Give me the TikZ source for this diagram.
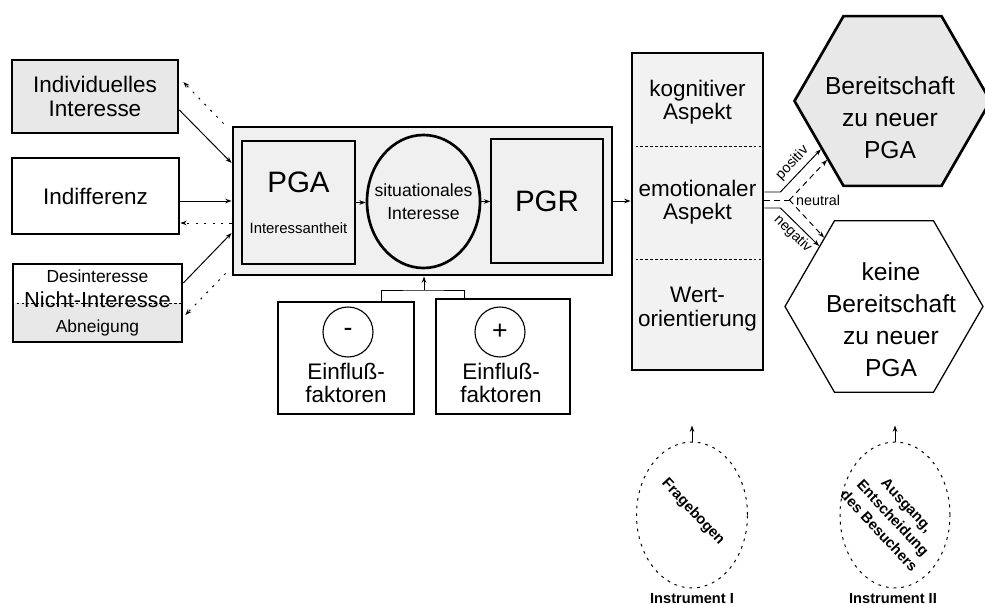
\documentclass[tikz,border=0pt]{standalone}
\usepackage{fontspec}
\setmainfont{Liberation Sans}
\usetikzlibrary{shapes.geometric,arrows.meta,calc,positioning}

\begin{document}
\begin{tikzpicture}[x=0.25mm,y=-0.25mm]
  \tikzstyle{box} = [rectangle, draw, line width=1.9pt, align=center, font=\fontsize{16}{16.5}\selectfont]
  \tikzstyle{greybox} = [box, fill=gray!18]
  \tikzstyle{innerbox} = [rectangle, draw, fill=gray!12, line width=1pt, align=center]
  \tikzstyle{infbox} = [rectangle, draw, line width=0.9pt]
  \tikzstyle{sign} = [circle, draw, line width=0.8pt, minimum size=12.5mm, inner sep=0pt, font=\fontsize{19}{19}\selectfont]
  \tikzstyle{plain} = [align=center, inner sep=0pt, font=\fontsize{16}{16.5}\selectfont]
  \tikzstyle{halfgrey} = [path picture={\fill[gray!18] (path picture bounding box.west) rectangle (path picture bounding box.south east);}]
  \tikzstyle{hexa} = [regular polygon, regular polygon sides=6, draw, inner sep=0pt]
  \tikzstyle{hextext} = [align=center, inner sep=0pt, font=\fontsize{17.5}{22.8}\selectfont]
  \tikzstyle{tool} = [ellipse, draw, dash pattern=on 2pt off 3.5pt, line width=0.7pt]
  \tikzstyle{tooltext} = [align=center, inner sep=0pt, rotate=-47, font=\bfseries\fontsize{10.5}{13.5}\selectfont]
  \tikzstyle{small} = [inner sep=1pt, font=\fontsize{10.2}{12}\selectfont]
  \tikzstyle{arrow} = [-{Stealth[length=4.5pt,width=3.2pt]}, line width=0.7pt]
  \tikzstyle{back} = [arrow, dash pattern=on 1.5pt off 4.5pt]
  \tikzstyle{neutralline} = [line width=0.7pt, dash pattern=on 4pt off 3pt]
  \tikzstyle{divider} = [line width=0.6pt, dash pattern=on 2pt off 1.5pt]

  \useasboundingbox (0,0) rectangle (985,605);

  % left column
  \node[greybox, minimum width=41.5mm, minimum height=18.25mm] at (95,96.5) (indiv) {Individuelles\\Interesse};
  \node[box, minimum width=41.75mm, minimum height=19mm] at (95.5,196) (indiff) {Indifferenz};
  \node[box, halfgrey, minimum width=42.25mm, minimum height=19.5mm, inner sep=0pt, font=\fontsize{12.4}{18}\selectfont] at (97.5,303) (nicht) {Desinteresse\\{\fontsize{15.5}{18}\selectfont Nicht-Interesse}\\Abneigung};
  \draw[divider] (nicht.west) -- (nicht.east);

  % main block
  \node[box, fill=gray!12, line width=2pt, minimum width=94.75mm, minimum height=37mm] at (422.5,201) (main) {};
  \node[innerbox, minimum width=28.25mm, minimum height=30.75mm, font=\fontsize{10.6}{29}\selectfont] at (298.5,202.5) (pga) {{\fontsize{21}{21}\selectfont PGA}\\Interessantheit};
  \node[ellipse, draw, fill=gray!12, line width=1.9pt, minimum width=28.25mm, minimum height=33.25mm] at (423.5,201.5) (sit) {};
  \node[plain, font=\fontsize{12.5}{16.5}\selectfont] at (sit) (sittext) {situationales\\Interesse};
  \node[innerbox, minimum width=28mm, minimum height=31mm, font=\fontsize{21}{21}\selectfont] at (547,201) (pgr) {PGR};

  % influences
  \node[infbox, minimum width=34mm, minimum height=28mm] at (346,358) (minusbox) {};
  \node[sign] at (348,332) (minus) {-};
  \node[plain] at (346,383) (minustext) {Einfluß-\\faktoren};
  \node[infbox, minimum width=33.5mm, minimum height=28.75mm] at (503,356.5) (plusbox) {};
  \node[sign] at (500,332) (plus) {+};
  \node[plain] at (501,383) (plustext) {Einfluß-\\faktoren};

  % aspects
  \node[box, fill=gray!10, line width=2pt, minimum width=32.75mm, minimum height=79.25mm] at (697.5,211.5) (aspect) {};
  \node[plain] at (697.5,102) (cog) {kognitiver\\Aspekt};
  \node[plain] at (697.5,202.5) (emo) {emotionaler\\Aspekt};
  \node[plain] at (697.5,309) (val) {Wert-\\orientierung};
  \draw[divider] ($(aspect.north west)!0.2965!(aspect.south west)$) -- ($(aspect.north east)!0.2965!(aspect.south east)$);
  \draw[divider] ($(aspect.north west)!0.65!(aspect.south west)$) -- ($(aspect.north east)!0.65!(aspect.south east)$);

  % outcomes
  \node[hexa, fill=gray!18, line width=1.9pt, minimum size=49mm] at (892.5,101) (ready) {};
  \node[hextext] at (890,118) (readytext) {Bereitschaft\\zu neuer\\PGA};
  \node[hexa, fill=white, line width=0.9pt, minimum size=49.5mm] at (884,306.5) (noready) {};
  \node[hextext] at (891,320) (noreadytext) {keine\\Bereitschaft\\zu neuer\\PGA};

  % instruments
  \node[tool, minimum width=27.75mm, minimum height=36.5mm] at (692,515) (tool1) {};
  \node[tooltext] at (693,512) (quest) {Fragebogen};
  \node[tool, minimum width=27.5mm, minimum height=36.5mm] at (895,515) (tool2) {};
  \node[tooltext] at (893,518) (exit) {Ausgang,\\Entscheidung\\des Besuchers};
  \node[font=\bfseries\fontsize{10.4}{12}\selectfont] at (692,599) (inst1) {Instrument I};
  \node[font=\bfseries\fontsize{10.4}{12}\selectfont] at (893,599) (inst2) {Instrument II};
  \coordinate[above=4mm of tool1.north] (up1);
  \coordinate[above=4mm of tool2.north] (up2);

  % connectors
  \draw[arrow] ($(indiv.east)+(0,13.5)$) -- ($(main.west)+(0,-38)$);
  \draw[back] ($(main.north west)+(-8,-2)$) -- ($(indiv.east)+(4,-14.5)$);
  \draw[arrow] ($(indiff.east)+(0,5)$) -- (main.west);
  \draw[back] ($(main.west)+(0,22)$) -- ($(indiff.east)+(0,27)$);
  \draw[arrow] ($(nicht.east)+(0,-20)$) -- ($(main.west)+(0,32)$);
  \draw[back] ($(main.south west)+(-6,-3)$) -- ($(nicht.east)+(2,12)$);

  \draw[arrow] (pga.east) -- (pga.east -| sit.west);
  \draw[arrow] (sit.east) -- (sit.east -| pgr.west);
  \draw[arrow] (main.east) -- (main.east -| aspect.west);

  \coordinate (join) at (424,290);
  \draw[line width=0.7pt] ($(minusbox.north)+(35,0)$) |- (join) -| ($(plusbox.north)+(-39,0)$);
  \draw[arrow] (join) -- (join |- main.south);

  \draw[arrow] ($(aspect.east)+(0,-19.5)$) -- ++(16,0) -- (ready.214) node[midway, sloped, above=2pt, small] {positiv};
  \coordinate (fork) at ($(aspect.east)+(25,-11.5)$);
  \draw[neutralline] ($(aspect.east)+(0,-11.5)$) -- (fork);
  \draw[neutralline, arrow] (fork) -- (ready.222);
  \draw[neutralline, arrow] (fork) -- (noready.131);
  \node[small, anchor=west] at ($(fork)+(5,0)$) (neutral) {neutral};
  \draw[arrow] ($(aspect.east)+(0,-3.5)$) -- ++(16,0) -- (noready.137) node[midway, sloped, below=1pt, small] {negativ};

  \draw[arrow] (tool1.north) -- (up1);
  \draw[arrow] (tool2.north) -- (up2);
\end{tikzpicture}
\end{document}
